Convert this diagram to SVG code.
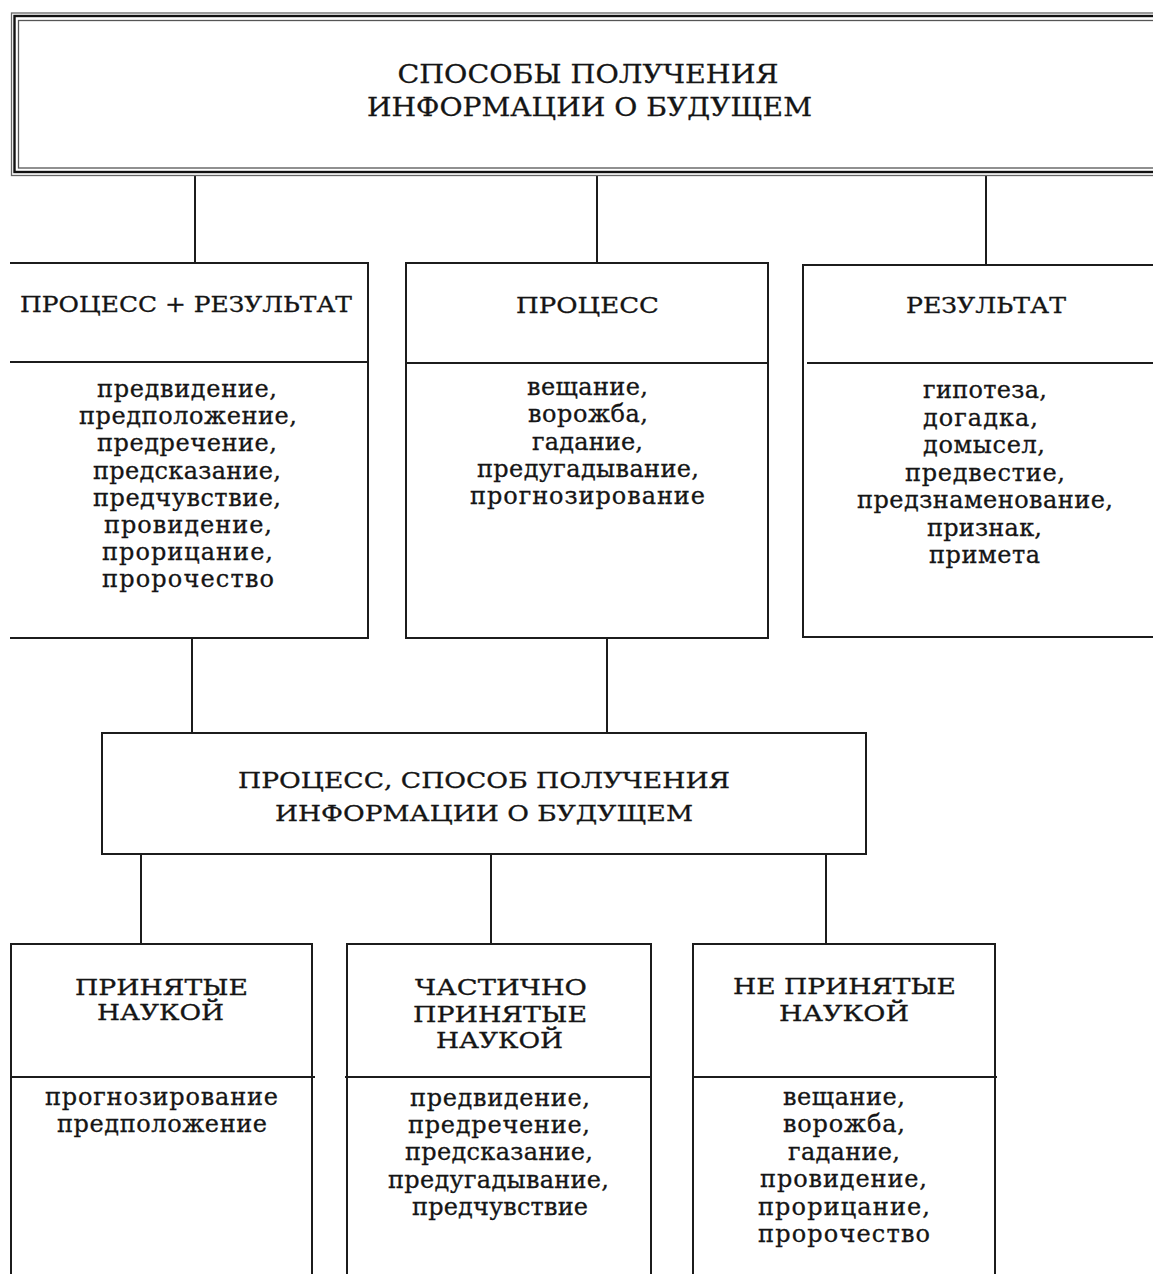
<svg xmlns="http://www.w3.org/2000/svg" width="1153" height="1274" viewBox="0 0 1153 1274">
<style>
.b{fill:none;stroke:#1c1c1c;stroke-width:2}
.c{stroke:#1c1c1c;stroke-width:2;fill:none}
text{font-family:"DejaVu Serif","Liberation Serif",serif;fill:#151515;text-anchor:middle;stroke:#151515;stroke-width:0.3}
.t{font-size:26px}
.h{font-size:22.5px}
.m{font-size:23px}
.l{font-size:24px}
</style>
<rect width="1153" height="1274" fill="#fff"/>
<g id="connectors">
<line class="c" x1="195" y1="176" x2="195" y2="263"/>
<line class="c" x1="597" y1="176" x2="597" y2="263"/>
<line class="c" x1="986" y1="176" x2="986" y2="265"/>
<line class="c" x1="192" y1="638" x2="192" y2="733"/>
<line class="c" x1="607" y1="638" x2="607" y2="733"/>
<line class="c" x1="141" y1="854" x2="141" y2="944"/>
<line class="c" x1="491" y1="854" x2="491" y2="944"/>
<line class="c" x1="826" y1="854" x2="826" y2="944"/>
</g>
<g id="title">
<rect x="11.5" y="13" width="1200" height="162.5" fill="none" stroke="#666" stroke-width="1.3"/>
<rect x="14.5" y="16" width="1200" height="156" fill="none" stroke="#111" stroke-width="2.4"/>
<rect x="18.5" y="20.5" width="1200" height="147.5" fill="none" stroke="#555" stroke-width="1.3"/>
<text class="t" x="588" y="83" textLength="381" lengthAdjust="spacingAndGlyphs">СПОСОБЫ ПОЛУЧЕНИЯ</text>
<text class="t" x="589.5" y="116" textLength="445" lengthAdjust="spacingAndGlyphs">ИНФОРМАЦИИ О БУДУЩЕМ</text>
</g>
<g id="process-result">
<path class="b" d="M10 263H368V638H10M10 362H368"/>
<text class="h" x="186" y="312" textLength="332" lengthAdjust="spacingAndGlyphs">ПРОЦЕСС + РЕЗУЛЬТАТ</text>
<text class="l" x="187" y="397" textLength="180">предвидение,</text>
<text class="l" x="188" y="424.2" textLength="218">предположение,</text>
<text class="l" x="187" y="451.4" textLength="180">предречение,</text>
<text class="l" x="187" y="478.6" textLength="188">предсказание,</text>
<text class="l" x="187" y="505.8" textLength="188">предчувствие,</text>
<text class="l" x="188" y="533" textLength="168">провидение,</text>
<text class="l" x="187.5" y="560.2" textLength="171">прорицание,</text>
<text class="l" x="188" y="587.4" textLength="172">пророчество</text>
</g>
<g id="process">
<rect class="b" x="406" y="263" width="362" height="375"/>
<line class="b" x1="406" y1="363" x2="768" y2="363"/>
<text class="h" x="587.5" y="313" textLength="143" lengthAdjust="spacingAndGlyphs">ПРОЦЕСС</text>
<text class="l" x="587.5" y="395" textLength="121">вещание,</text>
<text class="l" x="588" y="422.3" textLength="120">ворожба,</text>
<text class="l" x="587.5" y="449.6" textLength="111">гадание,</text>
<text class="l" x="588" y="476.9" textLength="222">предугадывание,</text>
<text class="l" x="587.5" y="504.2" textLength="235">прогнозирование</text>
</g>
<g id="result">
<path class="b" d="M1160 265H803V637H1160"/>
<line class="b" x1="807" y1="363" x2="1160" y2="363"/>
<text class="h" x="986" y="313" textLength="160" lengthAdjust="spacingAndGlyphs">РЕЗУЛЬТАТ</text>
<text class="l" x="985" y="398" textLength="124">гипотеза,</text>
<text class="l" x="980.5" y="425.5" textLength="115">догадка,</text>
<text class="l" x="984" y="453" textLength="122">домысел,</text>
<text class="l" x="985" y="480.5" textLength="160">предвестие,</text>
<text class="l" x="985" y="508" textLength="256">предзнаменование,</text>
<text class="l" x="984.5" y="535.5" textLength="115">признак,</text>
<text class="l" x="984.5" y="563" textLength="111">примета</text>
</g>
<g id="process-method">
<rect class="b" x="102" y="733" width="764" height="121"/>
<text class="m" x="484" y="788" textLength="492" lengthAdjust="spacingAndGlyphs">ПРОЦЕСС, СПОСОБ ПОЛУЧЕНИЯ</text>
<text class="m" x="484" y="821" textLength="418" lengthAdjust="spacingAndGlyphs">ИНФОРМАЦИИ О БУДУЩЕМ</text>
</g>
<g id="accepted">
<path class="b" d="M11 1280V944H312V1280M11 1077H315"/>
<text class="h" x="161.5" y="995" textLength="173" lengthAdjust="spacingAndGlyphs">ПРИНЯТЫЕ</text>
<text class="h" x="160.5" y="1020" textLength="127" lengthAdjust="spacingAndGlyphs">НАУКОЙ</text>
<text class="l" x="161.5" y="1105" textLength="233">прогнозирование</text>
<text class="l" x="162" y="1132" textLength="210">предположение</text>
</g>
<g id="partially-accepted">
<path class="b" d="M347 1280V944H651V1280M345 1077H651"/>
<text class="h" x="501" y="995" textLength="172" lengthAdjust="spacingAndGlyphs">ЧАСТИЧНО</text>
<text class="h" x="500" y="1022" textLength="174" lengthAdjust="spacingAndGlyphs">ПРИНЯТЫЕ</text>
<text class="h" x="499.5" y="1048" textLength="127" lengthAdjust="spacingAndGlyphs">НАУКОЙ</text>
<text class="l" x="500" y="1106" textLength="180">предвидение,</text>
<text class="l" x="499" y="1133.2" textLength="182">предречение,</text>
<text class="l" x="499" y="1160.4" textLength="188">предсказание,</text>
<text class="l" x="498.5" y="1187.6" textLength="221">предугадывание,</text>
<text class="l" x="500" y="1214.8" textLength="176">предчувствие</text>
</g>
<g id="not-accepted">
<path class="b" d="M693 1280V944H995V1280M693 1077H997"/>
<text class="h" x="844.5" y="994" textLength="223" lengthAdjust="spacingAndGlyphs">НЕ ПРИНЯТЫЕ</text>
<text class="h" x="844" y="1021" textLength="130" lengthAdjust="spacingAndGlyphs">НАУКОЙ</text>
<text class="l" x="844" y="1105" textLength="122">вещание,</text>
<text class="l" x="844" y="1132.4" textLength="122">ворожба,</text>
<text class="l" x="844" y="1159.8" textLength="112">гадание,</text>
<text class="l" x="843.5" y="1187.2" textLength="167">провидение,</text>
<text class="l" x="844" y="1214.6" textLength="172">прорицание,</text>
<text class="l" x="844" y="1242" textLength="172">пророчество</text>
</g>
</svg>
